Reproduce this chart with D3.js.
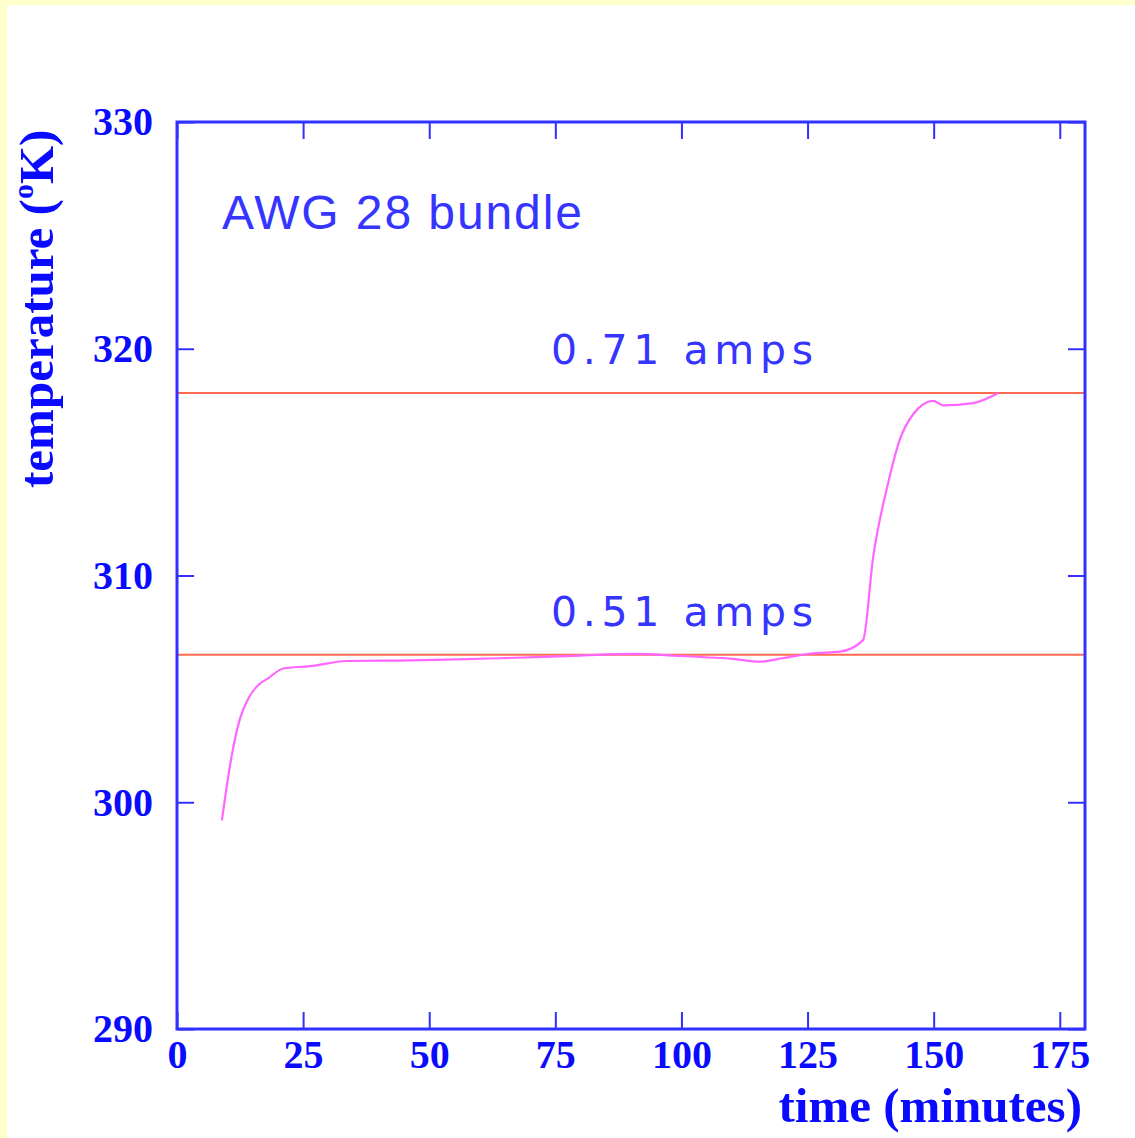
<!DOCTYPE html>
<html>
<head>
<meta charset="utf-8">
<script src="https://cdn.jsdelivr.net/npm/d3@7"></script>
<style>
  body { margin: 0; background: #ffffcc; }
  svg { display: block; }
</style>
</head>
<body>
<svg id="chart" width="1135" height="1138"></svg>
<script>
// heating curve of the AWG 28 bundle
var timeValues = [8.9, 10.8, 12.5, 14.2, 15.8, 18.1, 21.1, 26.4, 33.6, 44.2, 51.4, 64, 71.3, 80, 90.4, 100, 110.2, 115.6, 120, 126.1, 131.4, 136.0, 138.0, 141.0, 143.3, 145.9, 149.9, 151.9, 157.8, 162.8];
var tempValues = [299.2, 302.0, 303.7, 304.6, 305.1, 305.47, 305.9, 306.0, 306.23, 306.25, 306.28, 306.35, 306.4, 306.47, 306.54, 306.45, 306.32, 306.2, 306.35, 306.57, 306.64, 307.15, 310.8, 314.1, 316.0, 317.1, 317.7, 317.5, 317.6, 318.05];

// equilibrium levels for each current
var levelValues = [306.5, 318.05];
var levelLabels = ["0.51 amps", "0.71 amps"];

var xTicks = [0, 25, 50, 75, 100, 125, 150, 175];
var yTicks = [290, 300, 310, 320, 330];

var svg = d3.select("#chart");
var plotLeft = 177, plotRight = 1085, plotTop = 122, plotBottom = 1029;
var axisColor = "#3030ff";
var labelColor = "#0a0aff";

svg.append("rect").attr("x", 0).attr("y", 0).attr("width", 1135).attr("height", 1138).style("fill", "#ffffcc");
svg.append("rect").attr("x", 7).attr("y", 5).attr("width", 1128).attr("height", 1133).style("fill", "#ffffff");

var xScale = d3.scaleLinear().domain([0, 180]).range([plotLeft, plotRight]);
var yScale = d3.scaleLinear().domain([290, 330]).range([plotBottom, plotTop]);

// red level lines
svg.selectAll("levels")
  .data(levelValues)
  .enter()
  .append("line")
  .attr("x1", xScale(0))
  .attr("x2", xScale(180))
  .attr("y1", function (d) { return yScale(d); })
  .attr("y2", function (d) { return yScale(d); })
  .style("stroke", "#ff6a50")
  .style("stroke-width", 2);

// measured curve
var line = d3.line()
  .x(function (d, i) { return xScale(timeValues[i]); })
  .y(function (d) { return yScale(d); })
  .curve(d3.curveMonotoneX);

svg.append("path")
  .datum(tempValues)
  .attr("d", line)
  .style("fill", "none")
  .style("stroke", "#ff66ff")
  .style("stroke-width", 2.2);

// tick marks on all four sides, pointing inwards
function marks(axis, tx, ty) {
  var g = svg.append("g").attr("transform", "translate(" + tx + "," + ty + ")").call(axis);
  g.select(".domain").remove();
  g.selectAll("line").style("stroke", axisColor).style("stroke-width", 2);
  return g;
}
marks(d3.axisBottom(xScale).tickValues(xTicks).tickSize(-17).tickFormat(""), 0, plotBottom);
marks(d3.axisTop(xScale).tickValues(xTicks).tickSize(-17).tickFormat(""), 0, plotTop);
marks(d3.axisLeft(yScale).tickValues(yTicks).tickSize(-17).tickFormat(""), plotLeft, 0);
marks(d3.axisRight(yScale).tickValues(yTicks).tickSize(-17).tickFormat(""), plotRight, 0);

// frame
svg.append("rect")
  .attr("x", plotLeft).attr("y", plotTop)
  .attr("width", plotRight - plotLeft).attr("height", plotBottom - plotTop)
  .style("fill", "none")
  .style("stroke", axisColor)
  .style("stroke-width", 3);

// tick labels
var xLab = svg.append("g").attr("transform", "translate(0," + plotBottom + ")")
  .call(d3.axisBottom(xScale).tickValues(xTicks).tickSize(0).tickPadding(11));
var yLab = svg.append("g").attr("transform", "translate(" + plotLeft + ",0)")
  .call(d3.axisLeft(yScale).tickValues(yTicks).tickSize(0).tickPadding(24));
[xLab, yLab].forEach(function (g) {
  g.select(".domain").remove();
  g.selectAll("text")
    .style("font-family", "'Liberation Serif', 'Times New Roman', serif")
    .style("font-weight", "bold")
    .style("font-size", "40px")
    .style("fill", labelColor);
});

// axis titles
svg.append("text")
  .attr("x", 1082).attr("y", 1122)
  .attr("text-anchor", "end")
  .style("font-family", "'Liberation Serif', 'Times New Roman', serif")
  .style("font-weight", "bold")
  .style("font-size", "49px")
  .style("fill", labelColor)
  .text("time (minutes)");

var yTitle = svg.append("text")
  .attr("transform", "translate(53,488) rotate(-90)")
  .attr("text-anchor", "start")
  .style("font-family", "'Liberation Serif', 'Times New Roman', serif")
  .style("font-weight", "bold")
  .style("font-size", "49px")
  .style("fill", labelColor);
yTitle.append("tspan").text("temperature (");
yTitle.append("tspan").attr("dy", -20).style("font-size", "30px").text("o");
yTitle.append("tspan").attr("dy", 20).text("K)");

// annotations
svg.append("text")
  .attr("x", 222).attr("y", 229)
  .attr("textLength", 360)
  .attr("lengthAdjust", "spacing")
  .style("font-family", "'Liberation Sans', Arial, sans-serif")
  .style("font-size", "48px")
  .style("fill", "#3535ff")
  .text("AWG 28 bundle");

svg.selectAll("levelText")
  .data(levelValues)
  .enter()
  .append("text")
  .attr("x", 551)
  .attr("y", function (d) { return yScale(d) - 29; })
  .attr("textLength", 262)
  .attr("lengthAdjust", "spacing")
  .style("font-family", "'DejaVu Sans', Verdana, sans-serif")
  .style("font-size", "41px")
  .style("fill", "#3535ff")
  .text(function (d, i) { return levelLabels[i]; });
</script>
</body>
</html>
